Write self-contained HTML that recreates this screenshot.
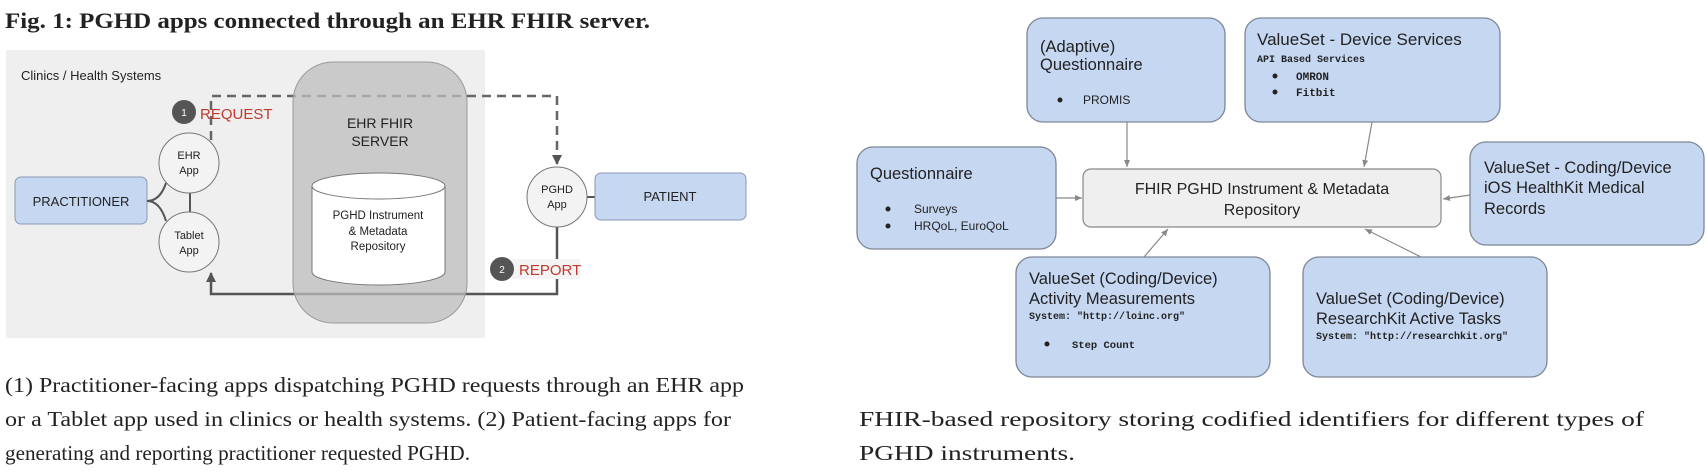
<!DOCTYPE html>
<html><head><meta charset="utf-8"><style>
html,body{margin:0;padding:0;background:#fff;width:1707px;height:472px;overflow:hidden}
svg{display:block}
.s{font-family:"Liberation Sans",Arial,sans-serif;fill:#222}
.m{font-family:"Liberation Mono",monospace;fill:#222;font-weight:bold}
.sr{font-family:"Liberation Serif",serif;fill:#222}
</style></head><body>
<svg width="1707" height="472" viewBox="0 0 1707 472" xmlns="http://www.w3.org/2000/svg">
<defs>
<marker id="ah" markerWidth="10" markerHeight="10" refX="9" refY="5" orient="auto" markerUnits="userSpaceOnUse"><path d="M0,0 L10,5 L0,10 z" fill="#555"/></marker>
<marker id="ah2" markerWidth="8" markerHeight="8" refX="7" refY="4" orient="auto" markerUnits="userSpaceOnUse"><path d="M0,1 L7,4 L0,7 z" fill="#888"/></marker>
</defs>
<!-- Title -->
<text x="5" y="28" class="sr" font-size="22" font-weight="bold" textLength="645" lengthAdjust="spacingAndGlyphs">Fig. 1: PGHD apps connected through an EHR FHIR server.</text>
<!-- Left panel -->
<rect x="6" y="50" width="479" height="288" fill="#efefef"/>
<text x="21" y="80" class="s" font-size="13" fill="#333">Clinics / Health Systems</text>
<path d="M211,140 V96 H557 V164" fill="none" stroke="#666" stroke-width="2.5" stroke-dasharray="9,6" marker-end="url(#ah)"/>
<path d="M557,227 V294 H211 V273" fill="none" stroke="#555" stroke-width="2.5" marker-end="url(#ah)"/>
<rect x="293" y="62" width="174" height="261" rx="40" fill="#bdbdbd" fill-opacity="0.75" stroke="#999" stroke-width="1"/>
<text x="380" y="128" class="s" font-size="14" text-anchor="middle">EHR FHIR</text>
<text x="380" y="146" class="s" font-size="14" text-anchor="middle">SERVER</text>
<path d="M312,186 V272 A66.5,13 0 0 0 445,272 V186" fill="#fff" stroke="#777"/>
<ellipse cx="378.5" cy="186" rx="66.5" ry="13" fill="#fff" stroke="#777"/>
<text x="378" y="219" class="s" font-size="11.5" text-anchor="middle">PGHD Instrument</text>
<text x="378" y="235" class="s" font-size="11.5" text-anchor="middle">&amp; Metadata</text>
<text x="378" y="250" class="s" font-size="11.5" text-anchor="middle">Repository</text>
<rect x="15" y="177" width="132" height="47" rx="6" fill="#c6d7f2" stroke="#8a9ab5"/>
<text x="81" y="206" class="s" font-size="13" text-anchor="middle">PRACTITIONER</text>
<path d="M147,201 Q160,201 166,183 M147,201 Q160,201 166,221" fill="none" stroke="#555" stroke-width="2"/>
<line x1="190" y1="193" x2="190" y2="212" stroke="#555" stroke-width="2"/>
<circle cx="189" cy="163" r="30" fill="#f3f3f3" stroke="#777"/>
<text x="189" y="159" class="s" font-size="11" text-anchor="middle">EHR</text>
<text x="189" y="174" class="s" font-size="11" text-anchor="middle">App</text>
<circle cx="189" cy="242" r="30" fill="#f3f3f3" stroke="#777"/>
<text x="189" y="239" class="s" font-size="11" text-anchor="middle">Tablet</text>
<text x="189" y="254" class="s" font-size="11" text-anchor="middle">App</text>
<circle cx="184" cy="112" r="12" fill="#555"/>
<text x="184" y="116" class="s" font-size="10" style="fill:#fff" text-anchor="middle">1</text>
<text x="200" y="119" class="s" font-size="15" style="fill:#c0392b">REQUEST</text>
<line x1="587" y1="197" x2="595" y2="197" stroke="#555" stroke-width="2"/>
<circle cx="557" cy="197" r="30" fill="#f3f3f3" stroke="#777"/>
<text x="557" y="193" class="s" font-size="11" text-anchor="middle">PGHD</text>
<text x="557" y="208" class="s" font-size="11" text-anchor="middle">App</text>
<rect x="595" y="173" width="151" height="47" rx="6" fill="#c6d7f2" stroke="#8a9ab5"/>
<text x="670" y="201" class="s" font-size="13" text-anchor="middle">PATIENT</text>
<rect x="512" y="259" width="68" height="20" fill="#f4f4f4"/>
<circle cx="502" cy="269" r="12" fill="#555"/>
<text x="502" y="273" class="s" font-size="10" style="fill:#fff" text-anchor="middle">2</text>
<text x="519" y="275" class="s" font-size="15" style="fill:#c0392b">REPORT</text>
<text x="5" y="392" class="sr" font-size="21" textLength="739" lengthAdjust="spacingAndGlyphs">(1) Practitioner-facing apps dispatching PGHD requests through an EHR app</text>
<text x="5" y="426" class="sr" font-size="21" textLength="726" lengthAdjust="spacingAndGlyphs">or a Tablet app used in clinics or health systems. (2) Patient-facing apps for</text>
<text x="5" y="460" class="sr" font-size="21" textLength="465" lengthAdjust="spacingAndGlyphs">generating and reporting practitioner requested PGHD.</text>

<g stroke="#888" stroke-width="1.2" fill="none" marker-end="url(#ah2)">
<line x1="1127" y1="122" x2="1127" y2="167"/>
<line x1="1372" y1="122" x2="1364" y2="167"/>
<line x1="1056" y1="198" x2="1082" y2="198"/>
<line x1="1470" y1="195" x2="1443" y2="199"/>
<line x1="1144" y1="257" x2="1168" y2="229"/>
<line x1="1421" y1="257" x2="1365" y2="229"/>
</g>
<g fill="#c6d7f2" stroke="#7d8796" stroke-width="1.3">
<rect x="1027" y="18" width="198" height="104" rx="16"/>
<rect x="1245" y="18" width="255" height="104" rx="16"/>
<rect x="857" y="147" width="199" height="102" rx="16"/>
<rect x="1470" y="142" width="234" height="103" rx="16"/>
<rect x="1016" y="257" width="254" height="120" rx="16"/>
<rect x="1303" y="257" width="244" height="120" rx="16"/>
</g>
<rect x="1083" y="169" width="358" height="58" rx="8" fill="#efefef" stroke="#888" stroke-width="1.2"/>
<text x="1262" y="194" class="s" font-size="16" text-anchor="middle">FHIR PGHD Instrument &amp; Metadata</text>
<text x="1262" y="215" class="s" font-size="16" text-anchor="middle">Repository</text>

<text x="1040" y="52" class="s" font-size="16.5">(Adaptive)</text>
<text x="1040" y="70" class="s" font-size="16.5">Questionnaire</text>
<circle cx="1060" cy="100" r="2.5" fill="#222"/>
<text x="1083" y="104" class="s" font-size="12">PROMIS</text>

<text x="1257" y="45" class="s" font-size="17">ValueSet - Device Services</text>
<text x="1257" y="62" class="m" font-size="10">API Based Services</text>
<circle cx="1275" cy="76" r="2.5" fill="#222"/>
<text x="1296" y="80" class="m" font-size="11">OMRON</text>
<circle cx="1275" cy="92" r="2.5" fill="#222"/>
<text x="1296" y="96" class="m" font-size="11">Fitbit</text>

<text x="870" y="179" class="s" font-size="16.5">Questionnaire</text>
<circle cx="888" cy="209" r="2.5" fill="#222"/>
<text x="914" y="213" class="s" font-size="12">Surveys</text>
<circle cx="888" cy="226" r="2.5" fill="#222"/>
<text x="914" y="230" class="s" font-size="12">HRQoL, EuroQoL</text>

<text x="1484" y="173" class="s" font-size="16.5">ValueSet - Coding/Device</text>
<text x="1484" y="193" class="s" font-size="16.5">iOS HealthKit Medical</text>
<text x="1484" y="214" class="s" font-size="16.5">Records</text>

<text x="1029" y="284" class="s" font-size="16.5">ValueSet (Coding/Device)</text>
<text x="1029" y="304" class="s" font-size="16.5">Activity Measurements</text>
<text x="1029" y="319" class="m" font-size="10">System: "http://loinc.org"</text>
<circle cx="1047" cy="344" r="2.5" fill="#222"/>
<text x="1072" y="348" class="m" font-size="10.5">Step Count</text>

<text x="1316" y="304" class="s" font-size="16.5">ValueSet (Coding/Device)</text>
<text x="1316" y="324" class="s" font-size="16.5">ResearchKit Active Tasks</text>
<text x="1316" y="339" class="m" font-size="10">System: "http://researchkit.org"</text>

<text x="859" y="426" class="sr" font-size="21.5" textLength="785" lengthAdjust="spacingAndGlyphs">FHIR-based repository storing codified identifiers for different types of</text>
<text x="859" y="460" class="sr" font-size="21.5" textLength="216" lengthAdjust="spacingAndGlyphs">PGHD instruments.</text>
</svg>
</body></html>
